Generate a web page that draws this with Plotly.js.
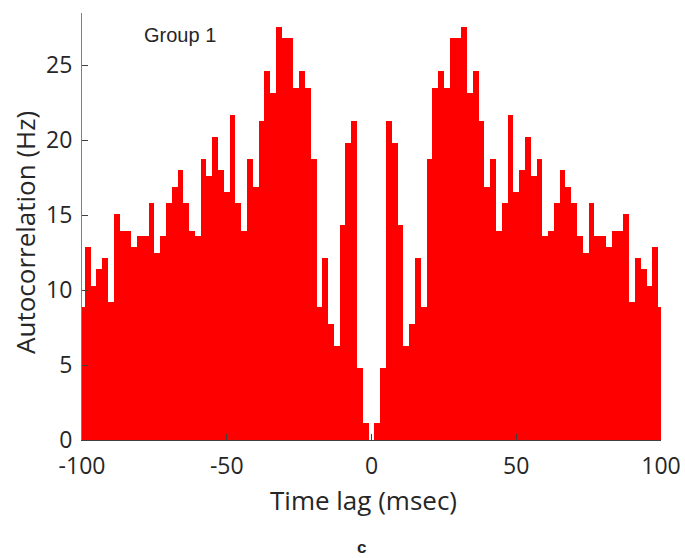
<!DOCTYPE html>
<html>
<head>
<meta charset="utf-8">
<script src="https://cdn.plot.ly/plotly-3.0.1.min.js"></script>
<style>html,body{margin:0;padding:0;background:#fff;}#chart{width:685px;height:558px;}</style>
</head>
<body>
<div id="chart"></div>
<script>
// Bin centres (msec), 2-msec bins
var lags = [-100,-98,-96,-94,-92,-90,-88,-86,-84,-82,
            -80,-78,-76,-74,-72,-70,-68,-66,-64,-62,
            -60,-58,-56,-54,-52,-50,-48,-46,-44,-42,
            -40,-38,-36,-34,-32,-30,-28,-26,-24,-22,
            -20,-18,-16,-14,-12,-10,-8,-6,-4,-2,
            0,
            2,4,6,8,10,12,14,16,18,20,
            22,24,26,28,30,32,34,36,38,40,
            42,44,46,48,50,52,54,56,58,60,
            62,64,66,68,70,72,74,76,78,80,
            82,84,86,88,90,92,94,96,98,100];
// Autocorrelation rate (Hz)
var rates = [8.85,12.9,10.3,11.4,12.13,9.2,15.07,13.96,13.96,12.9,
             13.6,13.6,15.8,12.5,13.6,15.8,16.9,18.0,15.8,13.96,
             13.6,18.73,17.6,20.18,18.0,16.53,21.64,15.8,13.96,18.73,
             16.9,21.29,24.58,23.13,27.53,26.78,26.78,23.49,24.58,23.49,
             18.73,8.85,12.13,7.76,6.29,14.33,19.82,21.29,4.8,1.13,
             0,
             1.13,4.8,21.29,19.82,14.33,6.29,7.76,12.13,8.85,18.73,
             23.49,24.58,23.49,26.78,26.78,27.53,23.13,24.58,21.29,16.9,
             18.73,13.96,15.8,21.64,16.53,18.0,20.18,17.6,18.73,13.6,
             13.96,15.8,18.0,16.9,15.8,13.6,12.5,15.8,13.6,13.6,
             12.9,13.96,13.96,15.07,9.2,12.13,11.4,10.3,12.9,8.85];
var xTicks = [-100,-50,0,50,100];
var yTicks = [0,5,10,15,20,25];

var trace = {
  type: 'bar',
  x: lags,
  y: rates,
  width: 2,
  marker: {color: '#ff0000', line: {width: 0}},
  hoverinfo: 'x+y'
};

var txt = '#262626';
var L = 82, T = 13, W = 579, H = 427;
function px(x) { return (x - L) / W; }
function py(y) { return (T + H - y) / H; }

var layout = {
  width: 685, height: 558,
  margin: {l: L, r: 685 - L - W, t: T, b: 558 - T - H},
  paper_bgcolor: '#ffffff', plot_bgcolor: '#ffffff',
  bargap: 0,
  showlegend: false,
  font: {family: '"Open Sans", sans-serif', color: txt, size: 22},
  xaxis: {
    range: [-100, 100],
    tickvals: xTicks,
    ticktext: xTicks.map(String),
    ticks: 'inside', ticklen: 6, tickcolor: '#404040', tickwidth: 1,
    showline: true, linecolor: '#404040', linewidth: 1,
    showgrid: false, zeroline: false,
    tickfont: {size: 23, color: txt},
    ticklabelstandoff: 5
  },
  yaxis: {
    range: [0, 28.47],
    tickvals: yTicks,
    ticktext: yTicks.map(String),
    ticks: 'inside', ticklen: 6, tickcolor: '#404040', tickwidth: 1,
    showline: true, linecolor: '#808080', linewidth: 1,
    showgrid: false, zeroline: false,
    tickfont: {size: 23, color: txt},
    ticklabelstandoff: 4
  },
  annotations: [
    {text: 'Time lag (msec)', xref: 'paper', yref: 'paper', x: px(363), y: py(500),
     xanchor: 'center', yanchor: 'middle', showarrow: false,
     font: {size: 26, color: txt}},
    {text: 'Autocorrelation (Hz)', xref: 'paper', yref: 'paper', x: px(25), y: py(233),
     xanchor: 'center', yanchor: 'middle', showarrow: false, textangle: -90,
     font: {size: 26, color: txt}},
    {text: 'Group 1', xref: 'paper', yref: 'paper', x: px(180), y: py(35),
     xanchor: 'center', yanchor: 'middle', showarrow: false,
     font: {family: '"Liberation Sans", Arial, sans-serif', size: 20, color: txt}},
    {text: '<b>c</b>', xref: 'paper', yref: 'paper', x: px(361), y: py(547),
     xanchor: 'center', yanchor: 'middle', showarrow: false,
     font: {family: '"Liberation Sans", Arial, sans-serif', size: 17, color: txt}}
  ]
};

Plotly.newPlot('chart', [trace], layout, {displayModeBar: false, staticPlot: true});
</script>
</body>
</html>
